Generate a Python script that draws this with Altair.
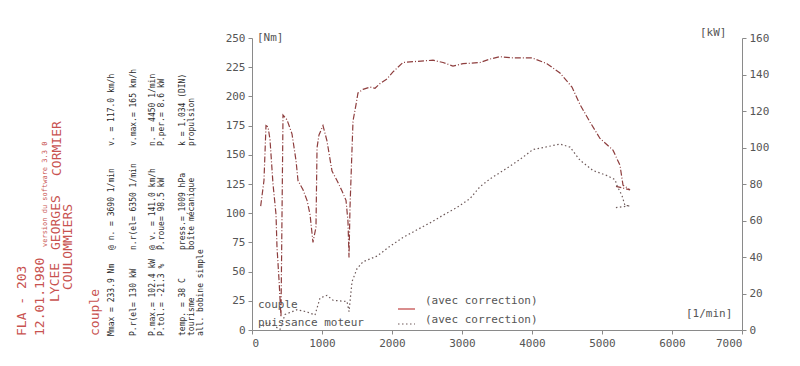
import altair as alt
import pandas as pd

# ---- data ----
torque_rpm = [124, 171, 200, 229, 257, 300, 343, 357, 386, 414, 443, 500, 571, 629, 657,
              729, 786, 829, 871, 914, 929, 957, 1014, 1071, 1143, 1214, 1286, 1343, 1371,
              1386, 1400, 1443, 1486, 1514, 1586, 1686, 1757, 1829, 1929, 2014, 2157, 2357,
              2586, 2729, 2871, 3014, 3257, 3400, 3543, 3729, 4000, 4214, 4400, 4571, 4686,
              4829, 4971, 5157, 5257, 5300, 5400, 5200]
torque_nm = [106, 128, 175, 174, 163, 125, 99, 71, 43, 11, 184, 180, 168, 145, 128,
             120, 111, 99, 75, 88, 156, 167, 175, 162, 136, 128, 119, 111, 93,
             62, 105, 179, 193, 203, 206, 208, 207, 211, 215, 221, 229, 230,
             231, 229, 226, 228, 229, 232, 234, 233, 233, 228, 220, 208, 193,
             178, 164, 154, 141, 124, 120, 123]

power_rpm = [157, 229, 400, 471, 643, 786, 900, 971, 1071, 1157, 1357, 1386, 1429, 1500,
             1586, 1786, 1971, 2157, 2357, 2543, 2729, 2929, 3114, 3257, 3400, 3643, 3829,
             4014, 4214, 4400, 4543, 4686, 4871, 5071, 5186, 5214, 5286, 5329, 5400, 5186]
power_kw = [2.1, 4.3, 0.3, 8.5, 11.1, 9.9, 8.2, 17.5, 19.0, 16.3, 15.6, 10.1, 26.5, 33.6,
            37.4, 40.5, 45.9, 50.7, 54.9, 58.7, 62.9, 67.2, 72.0, 78.5, 82.8, 88.7, 93.5,
            98.9, 100.4, 101.9, 100.2, 93.0, 87.4, 84.6, 82.4, 79.1, 73.6, 68.1, 68.1, 67.0]

x_ticks = [0, 1000, 2000, 3000, 4000, 5000, 6000, 7000]
nm_ticks = [0, 25, 50, 75, 100, 125, 150, 175, 200, 225, 250]
kw_ticks = [0, 20, 40, 60, 80, 100, 120, 140, 160]

# ---- layout / style ----
OX, OY = 252, 38          # page position of the plot origin
W, H = 490, 292
MONO = "DejaVu Sans Mono"
TORQ = "#8e3e3e"
POW = "#6e5a5a"
RED = "#c8524f"
INK = "#2a2a2a"
AX = "#8a8a8a"
LBL = "#555555"

torque = pd.DataFrame({"rpm": torque_rpm, "nm": torque_nm, "i": list(range(len(torque_rpm)))})
power = pd.DataFrame({"rpm": power_rpm, "kw": power_kw, "i": list(range(len(power_rpm)))})

axis_common = dict(grid=False, title=None, domainColor=AX, tickColor=AX, labelColor=LBL,
                   labelFont=MONO, labelFontSize=11, tickSize=4, labelPadding=3)

xenc = alt.X("rpm:Q", scale=alt.Scale(domain=[0, 7000], nice=False),
             axis=alt.Axis(values=x_ticks, format="d", **axis_common))

torque_line = alt.Chart(torque).mark_line(
    color=TORQ, strokeWidth=1.2, strokeDash=[6, 2, 1, 2]
).encode(
    x=xenc,
    y=alt.Y("nm:Q", scale=alt.Scale(domain=[0, 250], nice=False),
            axis=alt.Axis(orient="left", values=nm_ticks, format="d", **axis_common)),
    order="i:Q",
)

power_line = alt.Chart(power).mark_line(
    color=POW, strokeWidth=1.2, strokeDash=[1.5, 2.5]
).encode(
    x="rpm:Q",
    y=alt.Y("kw:Q", scale=alt.Scale(domain=[0, 160], nice=False),
            axis=alt.Axis(orient="right", values=kw_ticks, format="d", **axis_common)),
    order="i:Q",
)

dummy = pd.DataFrame({"a": [0]})


def label(txt, px, py, size=11, color=LBL, angle=0, align="left", baseline="middle"):
    params = dict(font=MONO, fontSize=size, color=color, align=align, baseline=baseline)
    if angle:
        params["angle"] = angle
    return alt.Chart(pd.DataFrame({"t": [txt]})).mark_text(**params).encode(
        x=alt.value(px - OX), y=alt.value(py - OY), text="t:N")


def vlabel(txt, px, py, size, color):
    return label(txt, px, py, size=size, color=color, angle=270)


texts = [
    # in-plot legend and unit labels
    label("couple", 258, 305),
    label("puissance moteur", 258, 323),
    label("(avec correction)", 425, 301),
    label("(avec correction)", 425, 320),
    label("[Nm]", 257, 38),
    label("[kW]", 700, 33),
    label("[1/min]", 686, 314),
    # rotated header block (red)
    vlabel("FLA - 203", 22, 336, 13, RED),
    vlabel("version du software 3.3 0", 45, 247, 7, RED),
    vlabel("12.01.1980", 40, 336, 13, RED),
    vlabel("LYCEE", 55, 302, 13, RED),
    vlabel("GEORGES", 56, 250, 13, RED),
    vlabel("CORMIER", 57, 176, 13, RED),
    vlabel("COULOMMIERS", 68, 290, 13, RED),
    vlabel("couple", 95, 336, 13, RED),
    # rotated parameter block (black)
    vlabel("Mmax = 233.9 Nm", 112, 336, 8, INK),
    vlabel("@ n. =  3690 1/min", 112, 250, 8, INK),
    vlabel("v. =  117.0 km/h", 112, 146, 8, INK),
    vlabel("P.r(el=  130 kW", 134, 336, 8, INK),
    vlabel("n.r(el= 6350 1/min", 134, 250, 8, INK),
    vlabel("v.max.=  165 km/h", 134, 146, 8, INK),
    vlabel("P.max.= 102.4 kW", 153, 336, 8, INK),
    vlabel("@ v. = 141.0 km/h", 153, 250, 8, INK),
    vlabel("n. =  4450 1/min", 153, 146, 8, INK),
    vlabel("P.tol.= -21.3 %", 162, 336, 8, INK),
    vlabel("P.roue=  98.5 kW", 162, 250, 8, INK),
    vlabel("P.per.=   8.6 kW", 162, 146, 8, INK),
    vlabel("temp. =  38  C", 183, 336, 8, INK),
    vlabel("press.= 1009  hPa", 183, 250, 8, INK),
    vlabel("k  = 1.034 (DIN)", 183, 146, 8, INK),
    vlabel("tourisme", 192, 336, 8, INK),
    vlabel("boîte mécanique", 192, 250, 8, INK),
    vlabel("propulsion", 192, 146, 8, INK),
    vlabel("all. bobine simple", 201, 336, 8, INK),
]

legend_solid = alt.Chart(dummy).mark_rule(color="#c04040", strokeWidth=1.2).encode(
    x=alt.value(398 - OX), x2=alt.value(415 - OX), y=alt.value(309 - OY))
legend_dot = alt.Chart(dummy).mark_rule(color=POW, strokeWidth=1.2, strokeDash=[1.5, 2.5]).encode(
    x=alt.value(398 - OX), x2=alt.value(415 - OX), y=alt.value(324 - OY))

chart = alt.layer(torque_line, power_line, legend_solid, legend_dot, *texts).resolve_scale(
    y="independent"
).properties(
    width=W, height=H,
    autosize=alt.AutoSizeParams(type="none"),
    padding={"left": OX - 8, "top": OY - 8, "right": 800 - 16 - (OX - 8) - W,
             "bottom": 366 - 16 - (OY - 8) - H},
    background="white",
).configure_view(stroke=None)

chart.save("out.html", embed_options={"renderer": "svg", "actions": False})
